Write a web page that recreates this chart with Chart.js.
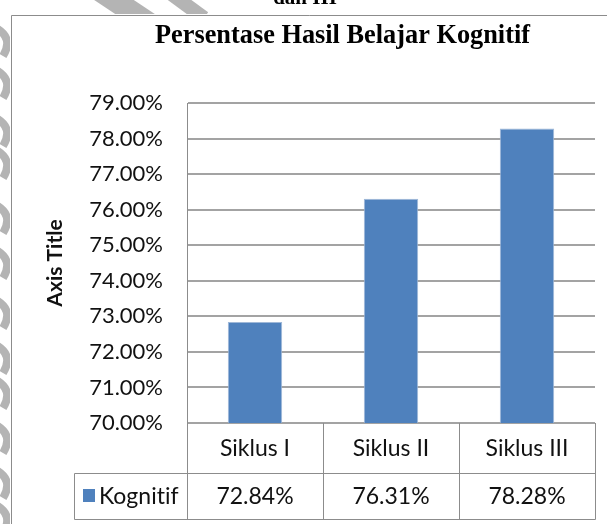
<!DOCTYPE html>
<html>
<head>
<meta charset="utf-8">
<script src="https://cdn.jsdelivr.net/npm/chart.js@4/dist/chart.umd.min.js"></script>
<style>
  html, body { margin: 0; padding: 0; background: #fff; }
  #wrap { position: relative; width: 607px; height: 524px; }
</style>
</head>
<body>
<div id="wrap"><canvas id="c" width="607" height="524"></canvas></div>
<script>
// ---- data ----
const categories = ['Siklus I', 'Siklus II', 'Siklus III'];
const seriesName = 'Kognitif';
const kognitif = [72.84, 76.31, 78.28];
const yTickValues = [70, 71, 72, 73, 74, 75, 76, 77, 78, 79];
const chartTitle = 'Persentase Hasil Belajar Kognitif';
const pageCaption = 'dan III';
const axisTitle = 'Axis Title';

const BAR = '#4F81BD';
const GRID = '#a3a3a3';
const LINE = '#8c8c8c';
const FONT = 'Lato, "Open Sans", sans-serif';

const fmt = v => v.toFixed(2) + '%';

// decorative frame, watermark, title and data table
const decor = {
  id: 'decor',
  beforeDraw(chart) {
    const ctx = chart.ctx;
    ctx.save();
    ctx.fillStyle = '#fff';
    ctx.fillRect(0, 0, chart.width, chart.height);
    // watermark strokes outside the chart frame
    ctx.strokeStyle = '#b4b4b4';
    ctx.lineCap = 'butt';
    ctx.save();
    ctx.beginPath(); ctx.rect(0, 0, chart.width, 14); ctx.clip();
    ctx.lineWidth = 22;
    ctx.beginPath(); ctx.moveTo(96, -12); ctx.lineTo(150, 24); ctx.stroke();
    ctx.lineWidth = 14;
    ctx.beginPath(); ctx.moveTo(166, -10); ctx.lineTo(204, 18); ctx.stroke();
    ctx.restore();
    ctx.save();
    ctx.beginPath(); ctx.rect(0, 0, 10, chart.height); ctx.clip();
    ctx.lineWidth = 8;
    const ys = [28, 70, 118, 150, 205, 250, 300, 345, 380, 425, 470, 505];
    for (const y of ys) {
      ctx.beginPath();
      ctx.moveTo(-4, y);
      ctx.quadraticCurveTo(14, y + 10, 3, y + 28);
      ctx.stroke();
    }
    ctx.restore();
    // outer chart border
    ctx.strokeStyle = LINE;
    ctx.lineWidth = 1;
    ctx.beginPath();
    ctx.moveTo(607, 15.5); ctx.lineTo(11.5, 15.5); ctx.lineTo(11.5, 524);
    ctx.stroke();
    // caption of the page above (cut off)
    ctx.fillStyle = '#000';
    ctx.font = 'bold 21px "Liberation Serif", serif';
    ctx.textAlign = 'center';
    ctx.textBaseline = 'alphabetic';
    ctx.fillText(pageCaption, 305, 4);
    // chart title, condensed serif
    ctx.font = 'bold 28px "Liberation Serif", serif';
    const w = ctx.measureText(chartTitle).width;
    const sx = 375 / w;
    ctx.translate(342.5, 43);
    ctx.scale(sx, 1);
    ctx.fillText(chartTitle, 0, 0);
    ctx.restore();
  },
  afterDraw(chart) {
    const ctx = chart.ctx;
    const xs = chart.scales.x;
    const area = chart.chartArea;
    const n = categories.length;
    const cw = (area.right - area.left) / n;
    const top = area.bottom;
    const mid = 473;
    const bot = 519;
    const legLeft = 74;
    ctx.save();
    ctx.strokeStyle = LINE;
    ctx.lineWidth = 1;
    const px = v => Math.round(v) + 0.5;
    ctx.beginPath();
    ctx.moveTo(px(area.left), px(mid)); ctx.lineTo(px(area.right), px(mid));
    ctx.moveTo(px(legLeft), px(mid)); ctx.lineTo(px(area.left), px(mid));
    ctx.moveTo(px(legLeft), px(bot)); ctx.lineTo(px(area.right), px(bot));
    for (let i = 0; i <= n; i++) {
      const x = px(xs.getPixelForValue(i) - cw / 2);
      ctx.moveTo(x, top); ctx.lineTo(x, px(bot));
    }
    ctx.moveTo(px(legLeft), px(mid)); ctx.lineTo(px(legLeft), px(bot));
    ctx.stroke();
    // texts
    try { ctx.textRendering = 'optimizeSpeed'; } catch (e) {}
    ctx.fillStyle = '#111';
    ctx.font = '23px ' + FONT;
    ctx.textAlign = 'center';
    ctx.textBaseline = 'middle';
    for (let i = 0; i < n; i++) {
      const cx = xs.getPixelForValue(i);
      ctx.fillText(categories[i], cx, (top + mid) / 2 + 1);
      ctx.fillText(fmt(kognitif[i]), cx, (mid + bot) / 2 + 1);
    }
    // legend key
    ctx.fillStyle = BAR;
    ctx.fillRect(83, 489, 12, 13);
    ctx.fillStyle = '#111';
    ctx.textAlign = 'left';
    ctx.fillText(seriesName, 99, (mid + bot) / 2 + 1);
    ctx.restore();
  }
};

function build() {
  new Chart(document.getElementById('c'), {
    type: 'bar',
    data: {
      labels: categories,
      datasets: [{
        label: seriesName,
        data: kognitif,
        backgroundColor: BAR,
        borderColor: '#9fb8d8',
        borderWidth: 1,
        barPercentage: 0.4,
        categoryPercentage: 1.0
      }]
    },
    plugins: [decor],
    options: {
      responsive: false,
      animation: false,
      events: [],
      layout: { padding: { left: 0, right: 12, top: 103, bottom: 101 } },
      plugins: { legend: { display: false }, title: { display: false }, tooltip: { enabled: false } },
      scales: {
        x: {
          type: 'category',
          display: false,
          offset: true,
          grid: { display: false }
        },
        y: {
          min: 70, max: 79,
          afterBuildTicks(scale) { scale.ticks = yTickValues.map(v => ({ value: v })); },
          afterFit(scale) { scale.width = 187; },
          ticks: {
            stepSize: 1,
            padding: 24,
            color: '#111',
            font: { family: FONT, size: 22 },
            callback: v => fmt(v)
          },
          grid: { color: GRID, lineWidth: 2, drawTicks: false },
          border: { color: LINE, width: 1 },
          title: {
            display: true,
            text: axisTitle,
            color: '#111',
            font: { family: FONT, size: 21, weight: 'bold' },
            padding: { top: 43, bottom: 0 }
          }
        }
      }
    }
  });
}

if (document.fonts && document.fonts.load) {
  Promise.all([
    document.fonts.load('22px Lato'),
    document.fonts.load('bold 22px Lato'),
    document.fonts.load('bold 28px "Liberation Serif"')
  ]).then(build, build);
} else {
  build();
}
</script>
</body>
</html>
